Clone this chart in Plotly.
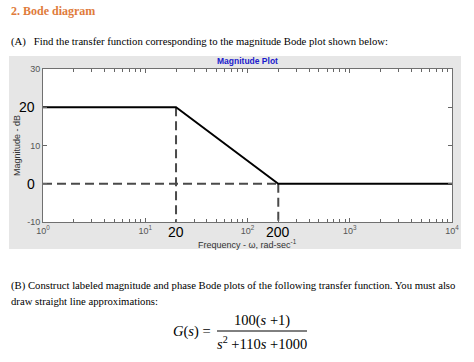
import math
import plotly.graph_objects as go

# ---- data ----
freq = [1, 20, 200, 10000]          # rad/s
mag_db = [20, 20, 0, 0]             # asymptote magnitude, dB
corner_freqs = [20, 200]
corner_labels = ["20", "200"]
level_vals = [20, 0]
level_labels = ["20", "0"]
x_tickvals = [1, 10, 100, 1000, 10000]
x_ticktext = ["10<sup>0</sup>", "10<sup>1</sup>", "10<sup>2</sup>", "10<sup>3</sup>", "10<sup>4</sup>"]
y_tickvals = [-10, 0, 10, 20, 30]
y_ticktext = ["-10", " ", "10", " ", "30"]

W, H = 474, 362
L, R, T, B = 43, 452, 69, 222


def px(x):
    return (x - L) / (R - L)


def py(y):
    return (B - y) / (B - T)


fig = go.Figure()

dash_col = "#4a4a4a"
fig.add_trace(go.Scatter(x=[freq[0], corner_freqs[1]], y=[mag_db[-1], mag_db[-1]], mode="lines",
                         line=dict(color=dash_col, width=2, dash="9px,5px"), showlegend=False))
fig.add_trace(go.Scatter(x=[corner_freqs[0], corner_freqs[0]], y=[mag_db[0], -10], mode="lines",
                         line=dict(color=dash_col, width=2, dash="9px,5px"), showlegend=False))
fig.add_trace(go.Scatter(x=[corner_freqs[1], corner_freqs[1]], y=[mag_db[-1], -10], mode="lines",
                         line=dict(color=dash_col, width=2, dash="9px,5px"), showlegend=False))
fig.add_trace(go.Scatter(x=freq, y=mag_db, mode="lines",
                         line=dict(color="black", width=1.8), showlegend=False))

minor_vals = [m * 10 ** d for d in range(4) for m in range(2, 10)]

fig.update_xaxes(type="log", range=[0, 4], tickvals=x_tickvals, ticktext=x_ticktext,
                 ticks="inside", ticklen=4, tickcolor="#666", showline=True, linecolor="#707070",
                 linewidth=1, mirror="ticks", showgrid=False, zeroline=False,
                 tickfont=dict(family="Arial, Liberation Sans", size=9, color="#555"),
                 minor=dict(tickvals=minor_vals, ticks="inside", ticklen=3, tickcolor="#666", showgrid=False))
fig.update_yaxes(range=[-10, 30], tickvals=y_tickvals, ticktext=y_ticktext,
                 ticks="inside", ticklen=4, tickcolor="#666", showline=True, linecolor="#707070",
                 linewidth=1, mirror="ticks", showgrid=False, zeroline=False,
                 tickfont=dict(family="Arial, Liberation Sans", size=9, color="#555"))

shapes = [
    dict(type="rect", xref="paper", yref="paper", x0=px(9), x1=px(461), y0=py(249), y1=py(56),
         fillcolor="#e6e6e6", line=dict(width=0), layer="below"),
    dict(type="rect", xref="paper", yref="paper", x0=0, x1=1, y0=0, y1=1,
         fillcolor="white", line=dict(width=0), layer="below"),
    dict(type="line", xref="paper", yref="paper", x0=px(217), x1=px(307), y0=py(331), y1=py(331),
         line=dict(color="black", width=1)),
]

serif = "Liberation Serif, Times New Roman, serif"
sans = "Arial, Liberation Sans, sans-serif"
ann = []
ann.append(dict(text="<b>2. Bode diagram</b>", x=px(9), y=py(11), xanchor="left", yanchor="middle",
                font=dict(family=serif, size=12, color="#e07b3c")))
ann.append(dict(text="(A)   Find the transfer function corresponding to the magnitude Bode plot shown below:",
                x=px(9), y=py(42), xanchor="left", yanchor="middle",
                font=dict(family=serif, size=10.7, color="black")))
ann.append(dict(text="<b>Magnitude Plot</b>", x=px(247), y=py(61), xanchor="center", yanchor="middle",
                font=dict(family=sans, size=8.5, color="#1a1acc")))
ann.append(dict(text="Magnitude - dB", x=px(17), y=py(146), xanchor="center", yanchor="middle",
                textangle=-90, font=dict(family=sans, size=9, color="#333")))
ann.append(dict(text="Frequency - \u03c9, rad-sec<sup>-1</sup>", x=px(247), y=py(244), xanchor="center",
                yanchor="middle", font=dict(family=sans, size=9, color="#333")))
for f, lab in zip(corner_freqs, corner_labels):
    xp = math.log10(f) / 4
    ann.append(dict(text=lab, x=xp, y=py(232), xanchor="center", yanchor="middle",
                    font=dict(family=sans, size=14, color="black")))
for v, lab in zip(level_vals, level_labels):
    ann.append(dict(text=lab, x=px(37), y=(v + 10) / 40, xanchor="right", yanchor="middle",
                    font=dict(family=sans, size=14, color="black")))
ann.append(dict(text="(B) Construct labeled magnitude and phase Bode plots of the following transfer function. You must also",
                x=px(9), y=py(285), xanchor="left", yanchor="middle",
                font=dict(family=serif, size=10.7, color="black")))
ann.append(dict(text="draw straight line approximations:", x=px(9), y=py(301), xanchor="left", yanchor="middle",
                font=dict(family=serif, size=10.7, color="black")))
ann.append(dict(text="<i>G</i>(<i>s</i>) =", x=px(213), y=py(331), xanchor="right", yanchor="middle",
                font=dict(family=serif, size=14.5, color="black")))
ann.append(dict(text="100(<i>s</i> +1)", x=px(262), y=py(320), xanchor="center", yanchor="middle",
                font=dict(family=serif, size=14.5, color="black")))
ann.append(dict(text="<i>s</i><sup>2</sup> +110<i>s</i> +1000", x=px(262), y=py(343), xanchor="center",
                yanchor="middle", font=dict(family=serif, size=14.5, color="black")))
for a in ann:
    a.update(xref="paper", yref="paper", showarrow=False)

fig.update_layout(width=W, height=H, margin=dict(l=L, r=W - R, t=T, b=H - B, pad=0),
                  paper_bgcolor="white", plot_bgcolor="white", shapes=shapes, annotations=ann)

fig.write_html("out.html", config={"displayModeBar": False},
               post_script="document.body.style.margin='0';")
